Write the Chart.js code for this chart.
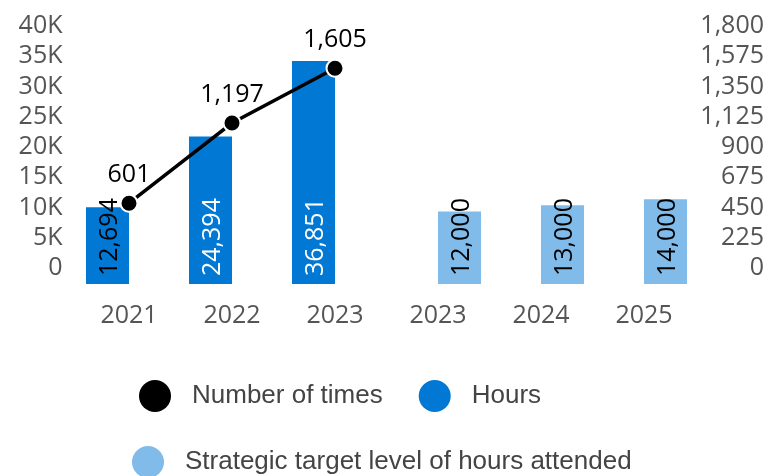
<!DOCTYPE html>
<html>
<head>
<meta charset="utf-8">
<script src="https://cdn.jsdelivr.net/npm/chart.js@4.4.0/dist/chart.umd.min.js"></script>
<style>
  html, body { margin: 0; padding: 0; background: #fff; }
  #wrap { width: 769px; height: 476px; }
</style>
</head>
<body>
<div id="wrap"><canvas id="hoursChart"></canvas></div>
<script>
// data
const categories = ['2021', '2022', '2023', '2023', '2024', '2025'];
const hours = [12694, 24394, 36851, null, null, null];
const targetHours = [null, null, null, 12000, 13000, 14000];
const times = [601, 1197, 1605, null, null, null];
const hoursTicks = [0, 5000, 10000, 15000, 20000, 25000, 30000, 35000, 40000];
const timesTicks = [0, 225, 450, 675, 900, 1125, 1350, 1575, 1800];

const BLUE = '#0078d4';
const LIGHT_BLUE = '#80bbea';
const TICK_COLOR = '#555555';
const TICK_FONT = { family: 'Open Sans', size: 25 };

const fmt = v => v.toLocaleString('en-US');

// rotated value labels at the base of each bar (drawn before the line goes on top)
const barLabels = {
    id: 'barLabels',
    afterDatasetDraw(chart, args) {
        const meta = args.meta;
        if (meta.type !== 'bar') return;
        const ds = chart.data.datasets[args.index];
        const c = chart.ctx;
        c.save();
        c.font = '25px "Open Sans"';
        c.textAlign = 'left';
        c.textBaseline = 'middle';
        meta.data.forEach((el, i) => {
            const v = ds.data[i];
            if (v == null) return;
            const txt = fmt(v);
            const w = c.measureText(txt).width;
            const fits = (el.base - el.y) > w + 10;
            c.fillStyle = (ds.backgroundColor === BLUE && fits) ? '#ffffff' : '#000000';
            c.save();
            c.translate(el.x + 2, el.base - 8);
            c.rotate(-Math.PI / 2);
            c.fillText(txt, 0, 0);
            c.restore();
        });
        c.restore();
    },
    afterDatasetsDraw(chart) {
        const c = chart.ctx;
        chart.data.datasets.forEach((ds, di) => {
            if (ds.type !== 'line') return;
            const meta = chart.getDatasetMeta(di);
            c.save();
            c.font = '25px "Open Sans"';
            c.textAlign = 'center';
            c.textBaseline = 'alphabetic';
            c.fillStyle = '#000';
            meta.data.forEach((el, i) => {
                const v = ds.data[i];
                if (v == null) return;
                c.fillText(fmt(v), el.x, el.y - 21);
            });
            c.restore();
        });
    }
};

// two-row legend like the reference
const rowLegend = {
    id: 'rowLegend',
    afterDraw(chart) {
        const c = chart.ctx;
        const ds = chart.data.datasets;
        const rows = [
            { y: 396, x: 139, items: [ds[0], ds[1]] },
            { y: 462, x: 132, items: [ds[2]] }
        ];
        c.save();
        c.font = '26px "Liberation Sans"';
        c.textBaseline = 'middle';
        c.textAlign = 'left';
        rows.forEach(row => {
            let x = row.x;
            row.items.forEach(d => {
                c.beginPath();
                c.fillStyle = d.legendColor;
                c.arc(x + 16, row.y, 16, 0, Math.PI * 2);
                c.fill();
                c.fillStyle = '#444444';
                c.fillText(d.label, x + 53, row.y);
                x += 53 + c.measureText(d.label).width + 36;
            });
        });
        c.restore();
    }
};

new Chart(document.getElementById('hoursChart'), {
    data: {
        labels: categories,
        datasets: [
            {
                type: 'line',
                label: 'Number of times',
                data: times,
                yAxisID: 'yTimes',
                borderColor: '#000',
                borderWidth: 3.5,
                pointRadius: 8.5,
                pointBackgroundColor: '#000',
                pointBorderColor: '#fff',
                pointBorderWidth: 2,
                legendColor: '#000',
                order: 0
            },
            {
                type: 'bar',
                label: 'Hours',
                data: hours,
                yAxisID: 'yHours',
                backgroundColor: BLUE,
                legendColor: BLUE,
                barPercentage: 1,
                categoryPercentage: 0.835,
                order: 1
            },
            {
                type: 'bar',
                label: 'Strategic target level of hours attended',
                data: targetHours,
                yAxisID: 'yHours',
                backgroundColor: LIGHT_BLUE,
                legendColor: LIGHT_BLUE,
                barPercentage: 1,
                categoryPercentage: 0.835,
                order: 1
            }
        ]
    },
    options: {
        responsive: true,
        maintainAspectRatio: false,
        animation: false,
        layout: { padding: { top: 42, bottom: 142, left: 0, right: 5 } },
        plugins: {
            legend: { display: false },
            tooltip: { enabled: false }
        },
        scales: {
            x: {
                grid: { display: false, drawTicks: false },
                border: { display: false },
                ticks: { color: TICK_COLOR, font: TICK_FONT, padding: 17, maxRotation: 0, autoSkip: false },
                afterFit(s) { s.height = 50; }
            },
            yHours: {
                position: 'left',
                min: 0,
                max: 40000,
                grid: { display: false, drawTicks: false },
                border: { display: false },
                afterBuildTicks(s) { s.ticks = hoursTicks.map(v => ({ value: v })); },
                afterFit(s) { s.width = 77.5; },
                ticks: {
                    color: TICK_COLOR,
                    font: TICK_FONT,
                    padding: 15,
                    labelOffset: -16,
                    autoSkip: false,
                    callback: v => v === 0 ? '0' : (v / 1000) + 'K'
                }
            },
            yTimes: {
                position: 'right',
                min: 0,
                max: 1800,
                grid: { display: false, drawTicks: false },
                border: { display: false },
                afterBuildTicks(s) { s.ticks = timesTicks.map(v => ({ value: v })); },
                afterFit(s) { s.width = 68.5; },
                ticks: {
                    color: TICK_COLOR,
                    font: TICK_FONT,
                    padding: 4,
                    labelOffset: -16,
                    crossAlign: 'far',
                    autoSkip: false,
                    callback: v => fmt(v)
                }
            }
        }
    },
    plugins: [barLabels, rowLegend]
});
</script>
</body>
</html>
